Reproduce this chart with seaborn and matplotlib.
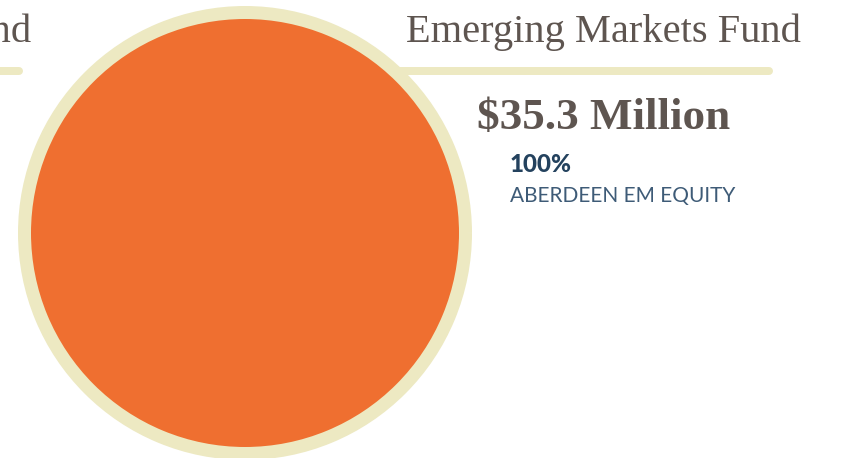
import matplotlib
matplotlib.use("Agg")
import matplotlib.pyplot as plt
import seaborn as sns

# allocation of the fund
fund_name = "Emerging Markets Fund"
prev_fund_tail = "Fund"
total_label = "$35.3 Million"
managers = ["ABERDEEN EM EQUITY"]
shares = [100]

orange = "#EF6F30"
cream = "#EDE9C2"
brown = "#5E5550"
navy = "#24425E"
navy_light = "#3E5B77"

sns.set_theme(style="white")
plt.rcParams["font.family"] = ["Liberation Serif", "DejaVu Serif"]

W, H = 847, 458
fig = plt.figure(figsize=(W / 100, H / 100), dpi=100)
ax = fig.add_axes([0, 0, 1, 1])

# rules under the titles
ax.plot([395, 769], [71, 71], color=cream, lw=8 * 0.72, solid_capstyle="round", zorder=1)
ax.plot([-10, 19], [71, 71], color=cream, lw=8 * 0.72, solid_capstyle="round", zorder=1)

# pie
ax.pie(shares, colors=[orange], center=(245, 233), radius=220.5, startangle=90,
       wedgeprops=dict(edgecolor=cream, linewidth=13 * 0.72), frame=True)
ax.set_xlim(0, W)
ax.set_ylim(H, 0)
ax.set_aspect("equal")
ax.axis("off")

ax.text(801, 42, fund_name, ha="right", va="baseline", fontsize=29.2, color=brown)
ax.text(32, 42, prev_fund_tail, ha="right", va="baseline", fontsize=29.2, color=brown)
ax.text(477, 129, total_label, ha="left", va="baseline", fontsize=32.5, fontweight="bold", color=brown)

for i, (m, s) in enumerate(zip(managers, shares)):
    ax.text(510, 172 + i * 60, f"{s}%", ha="left", va="baseline", fontsize=17.5,
            fontweight="black", color=navy, family=["Lato", "DejaVu Sans"])
    ax.text(510, 202 + i * 60, m, ha="left", va="baseline", fontsize=15,
            color=navy_light, family=["Lato", "DejaVu Sans"])

fig.savefig("out.png", dpi=100)
